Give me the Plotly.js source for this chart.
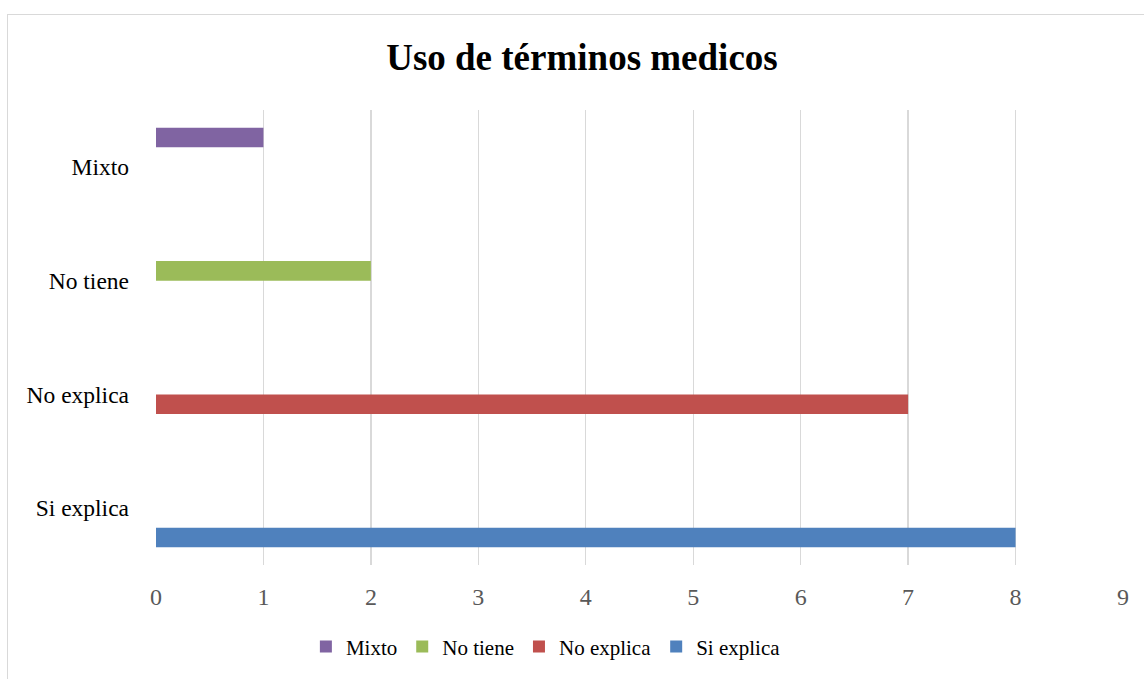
<!DOCTYPE html>
<html>
<head>
<meta charset="utf-8">
<script src="https://cdn.plot.ly/plotly-3.0.1.min.js"></script>
<style>
  html, body { margin: 0; padding: 0; background: #fff; overflow: hidden; }
  #chart { position: absolute; left: 0; top: 0; width: 1144px; height: 679px; }
  #frame { position: absolute; left: 7px; top: 14px; width: 1200px; height: 700px;
           border-left: 1.5px solid #d9d9d9; border-top: 1.5px solid #d9d9d9; pointer-events: none; }
</style>
</head>
<body>
<div id="chart"></div>
<div id="frame"></div>
<script>
const categories = ['Si explica', 'No explica', 'No tiene', 'Mixto'];
const seriesNames = ['Si explica', 'No explica', 'No tiene', 'Mixto'];
const seriesValues = [
  [8, null, null, null],
  [null, 7, null, null],
  [null, null, 2, null],
  [null, null, null, 1]
];
const seriesColors = ['#4F81BD', '#C0504D', '#9BBB59', '#8064A2'];
const xTicks = [0, 1, 2, 3, 4, 5, 6, 7, 8, 9];

const traces = seriesNames.map((name, i) => ({
  type: 'bar',
  orientation: 'h',
  name: name,
  y: categories,
  x: seriesValues[i],
  marker: { color: seriesColors[i] },
  hoverinfo: 'x+y'
}));

const layout = {
  width: 1144,
  height: 679,
  margin: { l: 155.5, r: 21.3, t: 110, b: 112 },
  paper_bgcolor: 'rgba(0,0,0,0)',
  plot_bgcolor: '#ffffff',
  barmode: 'group',
  bargap: 0.31,
  bargroupgap: 0,
  title: {
    text: 'Uso de términos medicos',
    font: { family: 'Liberation Serif, Times New Roman, serif', size: 37, color: '#000000', weight: 'bold' },
    xref: 'container', x: 0.5087, xanchor: 'center',
    yref: 'container', y: 0.916, yanchor: 'middle'
  },
  xaxis: {
    range: [0, 9],
    tickvals: xTicks,
    ticktext: xTicks.map(String),
    showgrid: true,
    gridcolor: '#d9d9d9',
    gridwidth: 1.4,
    zeroline: false,
    showline: false,
    ticks: 'outside',
    ticklen: 10,
    tickcolor: 'rgba(0,0,0,0)',
    tickfont: { family: 'Liberation Serif, Times New Roman, serif', size: 24, color: '#595959' },
    fixedrange: true
  },
  yaxis: {
    type: 'category',
    categoryorder: 'array',
    categoryarray: categories,
    showgrid: false,
    zeroline: false,
    showline: false,
    ticks: '',
    ticklabelstandoff: 26,
    tickfont: { family: 'Liberation Serif, Times New Roman, serif', size: 23.5, color: '#000000' },
    fixedrange: true
  },
  showlegend: true,
  legend: {
    orientation: 'h',
    traceorder: 'reversed',
    x: 0.155, xanchor: 'left',
    y: -0.18, yanchor: 'middle',
    font: { family: 'Liberation Serif, Times New Roman, serif', size: 21, color: '#000000' },
    bgcolor: 'rgba(0,0,0,0)'
  }
};

Plotly.newPlot('chart', traces, layout, { displayModeBar: false, staticPlot: true });
</script>
</body>
</html>
